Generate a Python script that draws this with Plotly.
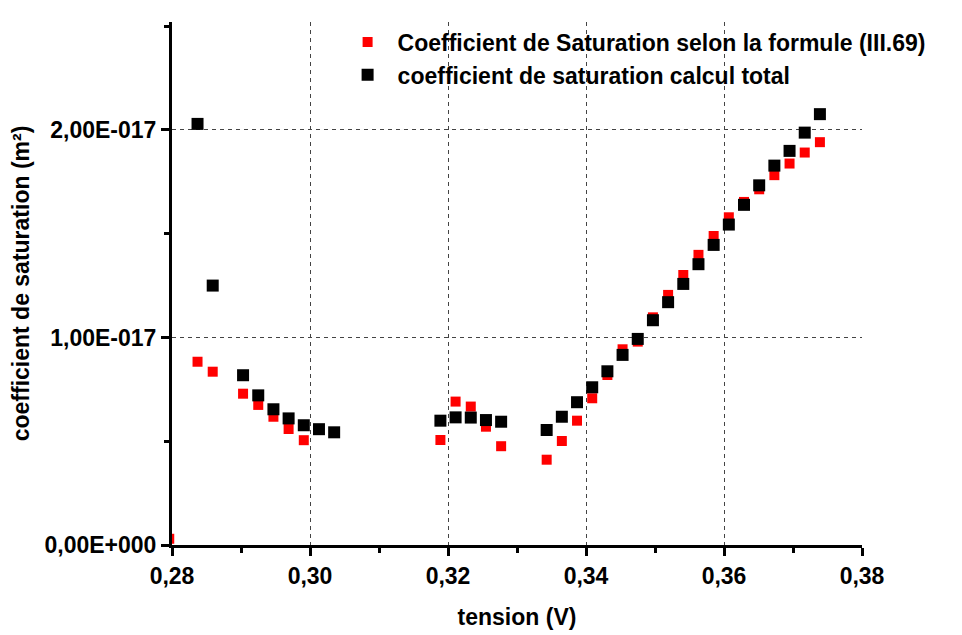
import plotly.graph_objects as go

# tension (V) et coefficient de saturation (m²)
x_formule = [0.2796, 0.2837, 0.2859, 0.2903, 0.2925, 0.2947, 0.2969, 0.2991,
             0.3189, 0.3211, 0.3233, 0.3255, 0.3277, 0.3343, 0.3365, 0.3387,
             0.3409, 0.3431, 0.3453, 0.3475, 0.3497, 0.3519, 0.3541, 0.3563,
             0.3585, 0.3607, 0.3629, 0.3651, 0.3673, 0.3695, 0.3717, 0.3739]
y_formule = [0.03e-17, 0.883e-17, 0.835e-17, 0.729e-17, 0.675e-17, 0.618e-17, 0.559e-17, 0.505e-17,
             0.506e-17, 0.691e-17, 0.667e-17, 0.570e-17, 0.476e-17, 0.411e-17, 0.501e-17, 0.599e-17,
             0.707e-17, 0.819e-17, 0.943e-17, 0.980e-17, 1.097e-17, 1.205e-17, 1.301e-17, 1.398e-17,
             1.489e-17, 1.579e-17, 1.653e-17, 1.714e-17, 1.782e-17, 1.838e-17, 1.891e-17, 1.941e-17]

x_total = [0.2837, 0.2859, 0.2903, 0.2925, 0.2947, 0.2969, 0.2991, 0.3013, 0.3035,
           0.3189, 0.3211, 0.3233, 0.3255, 0.3277, 0.3343, 0.3365, 0.3387,
           0.3409, 0.3431, 0.3453, 0.3475, 0.3497, 0.3519, 0.3541, 0.3563,
           0.3585, 0.3607, 0.3629, 0.3651, 0.3673, 0.3695, 0.3717, 0.3739]
y_total = [2.029e-17, 1.250e-17, 0.818e-17, 0.721e-17, 0.654e-17, 0.610e-17, 0.577e-17, 0.558e-17, 0.543e-17,
           0.599e-17, 0.615e-17, 0.614e-17, 0.602e-17, 0.594e-17, 0.554e-17, 0.618e-17, 0.688e-17,
           0.760e-17, 0.837e-17, 0.916e-17, 0.993e-17, 1.083e-17, 1.170e-17, 1.258e-17, 1.353e-17,
           1.446e-17, 1.544e-17, 1.639e-17, 1.733e-17, 1.828e-17, 1.899e-17, 1.987e-17, 2.076e-17]

x_ticks = [0.28, 0.30, 0.32, 0.34, 0.36, 0.38]
x_ticktext = ["0,28", "0,30", "0,32", "0,34", "0,36", "0,38"]
y_ticks = [0, 1e-17, 2e-17]
y_ticktext = ["0,00E+000", "1,00E-017", "2,00E-017"]

fig = go.Figure()

fig.add_trace(go.Scatter(
    x=x_formule, y=y_formule, mode="markers",
    name="Coefficient de Saturation selon la formule (III.69)",
    marker=dict(symbol="square", size=10, color="#ff0000", line=dict(width=0))
))
fig.add_trace(go.Scatter(
    x=x_total, y=y_total, mode="markers",
    name="coefficient de saturation calcul total",
    marker=dict(symbol="square", size=12, color="#000000", line=dict(width=0))
))

axis_common = dict(
    showline=True, linewidth=3, linecolor="black",
    ticks="outside", ticklen=8, tickwidth=3, tickcolor="black",
    showgrid=True, gridcolor="#444444", gridwidth=1, griddash="4px,4px",
    zeroline=False, mirror=False, automargin=False,
)

fig.update_xaxes(
    range=[0.28, 0.38], tickvals=x_ticks, ticktext=x_ticktext,
    minor=dict(ticks="outside", ticklen=5, tickwidth=3, tickcolor="black", dtick=0.01, tick0=0.28, showgrid=False),
    title=dict(text="tension (V)", font=dict(size=23), standoff=22),
    **axis_common
)
fig.update_yaxes(
    range=[0, 2.52e-17], tickvals=y_ticks, ticktext=y_ticktext,
    minor=dict(ticks="outside", ticklen=5, tickwidth=3, tickcolor="black", dtick=0.5e-17, tick0=0, showgrid=False),
    title=dict(text="coefficient de saturation (m²)", font=dict(size=23), standoff=10),
    **axis_common
)

# la page ajoute 8 px de marge autour du graphique
fig.update_layout(
    width=954, height=627,
    margin=dict(l=164, r=100, t=14, b=90),
    plot_bgcolor="white", paper_bgcolor="white",
    font=dict(family="Liberation Sans, Arial, sans-serif", size=23, color="black", weight="bold"),
    showlegend=True,
    legend=dict(x=0.24, y=1.003, xanchor="left", yanchor="top", itemwidth=50,
                bgcolor="rgba(0,0,0,0)", font=dict(size=23), tracegroupgap=0),
)

fig.write_html("out.html")
